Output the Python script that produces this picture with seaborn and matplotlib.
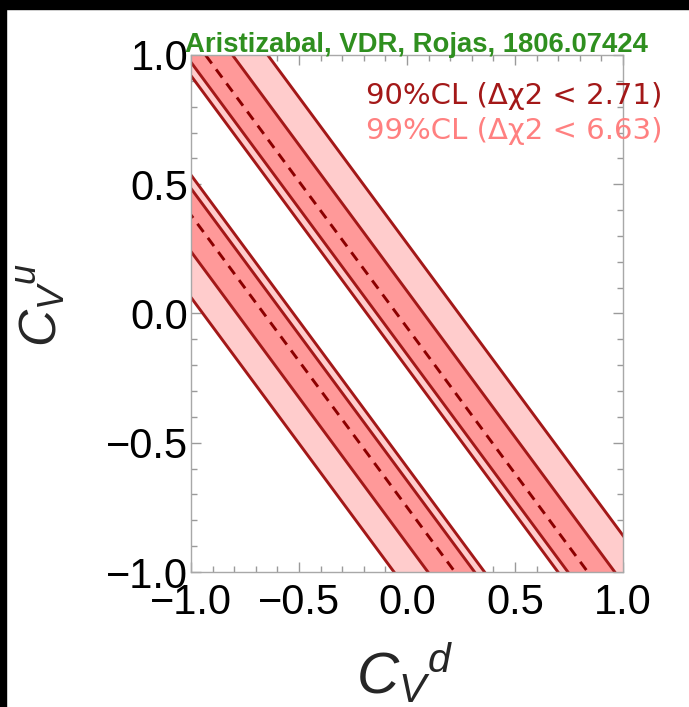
import numpy as np
import matplotlib
matplotlib.use("Agg")
import matplotlib.pyplot as plt
import seaborn as sns
from matplotlib.patches import Rectangle
from matplotlib.ticker import MultipleLocator

# allowed bands in the (C_V^d, C_V^u) plane: straight lines C_V^u = slope * (C_V^d - d0)
slope = -1.13
d0_center = [-0.663, -0.048]   # best fit, one value per family
d0_cl90_lo = [-0.788, -0.140]
d0_cl90_hi = [-0.572, 0.077]
d0_cl99_lo = [-0.945, -0.186]
d0_cl99_hi = [-0.526, 0.240]

ticks = [-1.0, -0.5, 0.0, 0.5, 1.0]
tick_labels = ["\u22121.0", "\u22120.5", "0.0", "0.5", "1.0"]

c_light = "#ffcccc"
c_mid = "#ff9999"
c_line = "#a31818"

sns.set_theme(style="white")
plt.rcParams["font.family"] = ["Liberation Sans", "DejaVu Sans"]
plt.rcParams["mathtext.fontset"] = "custom"
plt.rcParams["mathtext.it"] = "Liberation Sans:italic"
plt.rcParams["mathtext.rm"] = "Liberation Sans"

fig = plt.figure(figsize=(6.89, 7.07), dpi=100)
fig.patch.set_facecolor("white")
ax = fig.add_axes([191 / 689, 1 - 572 / 707, 432 / 689, 517 / 707])

d = np.array([-1.5, 1.5])


def u_of(d0):
    return slope * (d - d0)


for i in range(2):
    ax.fill_between(d, u_of(d0_cl99_lo[i]), u_of(d0_cl99_hi[i]), color=c_light, lw=0)
    ax.fill_between(d, u_of(d0_cl90_lo[i]), u_of(d0_cl90_hi[i]), color=c_mid, lw=0)
    for d0 in [d0_cl99_lo[i], d0_cl99_hi[i], d0_cl90_lo[i], d0_cl90_hi[i]]:
        sns.lineplot(x=d, y=u_of(d0), ax=ax, color=c_line, lw=2.1)
    sns.lineplot(x=d, y=u_of(d0_center[i]), ax=ax, color="#8b0000", lw=2.1,
                 linestyle=(0, (3.5, 2.5)))

ax.set_xlim(-1, 1)
ax.set_ylim(-1, 1)
ax.set_xticks(ticks)
ax.set_xticklabels(tick_labels)
ax.set_yticks(ticks)
ax.set_yticklabels(tick_labels)
ax.xaxis.set_minor_locator(MultipleLocator(0.1))
ax.yaxis.set_minor_locator(MultipleLocator(0.1))
ax.tick_params(which="both", direction="in", top=True, right=True, bottom=True, left=True,
               color="#9a9a9a", width=1)
ax.tick_params(which="major", length=7, labelsize=30, labelcolor="black")
ax.tick_params(which="minor", length=4)
ax.tick_params(axis="x", pad=8)
ax.tick_params(axis="y", pad=2)
for sp in ax.spines.values():
    sp.set_color("#a8a8a8")
    sp.set_linewidth(1)
ax.set_xlabel("")
ax.set_ylabel("")

fig.text(405 / 689, 1 - 673 / 707, r"${C_V}^{d}$", fontsize=42, ha="center", va="center")
fig.text(42 / 689, 1 - 305 / 707, r"${C_V}^{u}$", fontsize=37, ha="center", va="center",
         rotation=90)

fig.text(185 / 689, 1 - 52 / 707, "Aristizabal, VDR, Rojas, 1806.07424",
         family=["Liberation Sans Narrow", "Liberation Sans"], fontweight="bold",
         fontsize=19.8, color="#2f8f1f", ha="left", va="baseline")
fig.text(662 / 689, 1 - 104 / 707, "90%CL (\u0394\u03c72 < 2.71)", family=["DejaVu Sans"],
         fontsize=21, color="#a31818", ha="right", va="baseline")
fig.text(662 / 689, 1 - 139 / 707, "99%CL (\u0394\u03c72 < 6.63)", family=["DejaVu Sans"],
         fontsize=21, color="#ff8080", ha="right", va="baseline")

# black screenshot margins of the original image
fig.patches.append(Rectangle((0, 1 - 9 / 707), 1, 9 / 707, transform=fig.transFigure,
                             color="black", zorder=10))
fig.patches.append(Rectangle((0, 0), 6 / 689, 1, transform=fig.transFigure,
                             color="black", zorder=10))

fig.savefig("out.png", dpi=100)
